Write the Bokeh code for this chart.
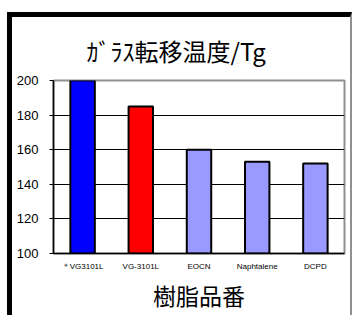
from bokeh.plotting import figure
from bokeh.models import FixedTicker, Range1d
from bokeh.embed import file_html
from bokeh.resources import INLINE

categories = ["＊VG3101L", "VG-3101L", "EOCN", "Naphtalene", "DCPD"]
tg_values = [200, 185, 160, 153, 152]
bar_colors = ["#0000FF", "#FF0000", "#9999FF", "#9999FF", "#9999FF"]
y_ticks = [100, 120, 140, 160, 180, 200]
title_text = "ｶﾞﾗｽ転移温度/Tg"
x_title_text = "樹脂品番"

# canvas starts at x=12, y=17 in the window (outer frame drawn with CSS borders)
p = figure(width=345, height=303, x_range=categories, y_range=Range1d(100, 200),
           output_backend="svg", toolbar_location=None, title=title_text,
           min_border_left=41, min_border_right=13, min_border_top=63, min_border_bottom=67)
p.styles = {"margin-left": "7px", "margin-top": "12px",
            "border-left": "5px solid black", "border-top": "5px solid black",
            "border-right": "2px solid #909090"}

p.vbar(x=categories, top=tg_values, bottom=100, width=0.42,
       fill_color=bar_colors, line_color="black", line_width=2)

p.title.text_font = "Noto Sans CJK JP"
p.title.text_font_size = "24px"
p.title.text_font_style = "normal"
p.title.text_color = "black"
p.title.align = "left"
p.title.offset = 33
p.title.standoff = 25
p.title.padding = 0

p.outline_line_color = "#909090"
p.outline_line_width = 2
p.background_fill_color = "white"
p.border_fill_color = "white"

p.xgrid.grid_line_color = None
p.ygrid.grid_line_color = "black"
p.ygrid.grid_line_width = 1
p.ygrid.ticker = FixedTicker(ticks=y_ticks)

p.yaxis.ticker = FixedTicker(ticks=y_ticks)
p.yaxis.axis_line_color = "black"
p.yaxis.axis_line_width = 1.5
p.yaxis.major_tick_out = 4
p.yaxis.major_tick_in = 0
p.yaxis.minor_tick_line_color = None
p.yaxis.major_label_text_font = "Liberation Sans"
p.yaxis.major_label_text_font_size = "13px"
p.yaxis.major_label_text_color = "black"
p.yaxis.major_label_standoff = 11

p.xaxis.axis_line_color = "black"
p.xaxis.axis_line_width = 1.5
p.xaxis.major_tick_out = 0
p.xaxis.major_tick_in = 0
p.xaxis.major_label_text_font = "Liberation Sans"
p.xaxis.major_label_text_font_size = "8px"
p.xaxis.major_label_text_color = "black"
p.xaxis.major_label_standoff = 8
p.xaxis.axis_label = x_title_text
p.xaxis.axis_label_text_font = "Noto Sans CJK JP"
p.xaxis.axis_label_text_font_size = "23px"
p.xaxis.axis_label_text_font_style = "normal"
p.xaxis.axis_label_text_color = "black"
p.xaxis.axis_label_standoff = 4

open("out.html", "w").write(file_html(p, INLINE))
